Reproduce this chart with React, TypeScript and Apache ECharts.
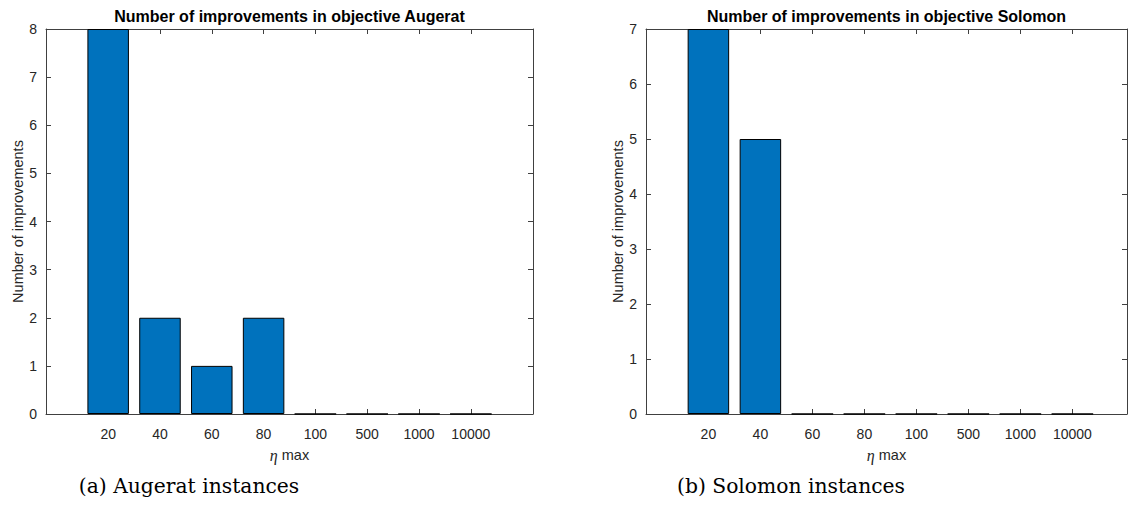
import React, { useEffect, useRef } from "react";
import * as echarts from "echarts";

const categories = ["20", "40", "60", "80", "100", "500", "1000", "10000"];
const augeratValues = [8, 2, 1, 2, 0, 0, 0, 0];
const solomonValues = [7, 5, 0, 0, 0, 0, 0, 0];
const augeratYTicks = [0, 1, 2, 3, 4, 5, 6, 7, 8];
const solomonYTicks = [0, 1, 2, 3, 4, 5, 6, 7];
const tickPositions = categories.map((_, i) => i + 1);

const AXIS = "#404040";
const TXT = "#262626";
const SANS = "Liberation Sans, Arial, Helvetica, sans-serif";
const SERIF = "Liberation Serif, Times New Roman, serif";
const CAPTION_SERIF = "DejaVu Serif, Liberation Serif, serif";

function xAxes(gridIndex: number, max: number) {
  const common = {
    type: "value",
    gridIndex,
    min: -0.2,
    max,
    splitLine: { show: false },
    axisLine: { show: true, onZero: false, lineStyle: { color: AXIS, width: 1 } },
    axisTick: {
      show: true,
      inside: true,
      length: 5,
      customValues: tickPositions,
      lineStyle: { color: AXIS, width: 1 },
    },
  };
  return [
    {
      ...common,
      position: "bottom",
      axisLabel: {
        show: true,
        customValues: tickPositions,
        formatter: (v: number) => categories[Math.round(v) - 1] ?? "",
        fontSize: 14,
        fontFamily: SANS,
        color: TXT,
        margin: 13,
      },
      name: "{i|η} max",
      nameLocation: "middle",
      nameGap: 33,
      nameTextStyle: {
        fontSize: 14.5,
        fontFamily: SANS,
        color: TXT,
        rich: {
          i: { fontFamily: SERIF, fontStyle: "italic", fontSize: 16, color: TXT },
        },
      },
    },
    {
      ...common,
      position: "top",
      axisLabel: { show: false },
    },
  ];
}

function yAxes(gridIndex: number, ticks: number[]) {
  const common = {
    type: "value",
    gridIndex,
    min: ticks[0],
    max: ticks[ticks.length - 1],
    interval: 1,
    splitLine: { show: false },
    axisLine: { show: true, onZero: false, lineStyle: { color: AXIS, width: 1 } },
    axisTick: { show: true, inside: true, length: 5, lineStyle: { color: AXIS, width: 1 } },
  };
  return [
    {
      ...common,
      position: "left",
      axisLabel: { show: true, fontSize: 14, fontFamily: SANS, color: TXT, margin: 9 },
      name: "Number of improvements",
      nameLocation: "middle",
      nameGap: 21,
      nameTextStyle: { fontSize: 14.5, fontFamily: SANS, color: TXT },
    },
    {
      ...common,
      position: "right",
      axisLabel: { show: false },
    },
  ];
}

function barSeries(axisIndex: number, values: number[]) {
  return {
    type: "bar",
    xAxisIndex: axisIndex,
    yAxisIndex: axisIndex,
    data: values.map((v, i) => [i + 1, v]),
    barWidth: 41.5,
    itemStyle: { color: "#0072BD", borderColor: "#000000", borderWidth: 1 },
    z: 3,
  };
}

function textEl(text: string, x: number, y: number, font: string) {
  return {
    type: "text",
    x,
    y,
    style: {
      text,
      font,
      fill: "#000000",
      textAlign: "center",
      textVerticalAlign: "middle",
      align: "center",
      verticalAlign: "middle",
    },
  };
}

export default function App() {
  const ref = useRef<HTMLDivElement>(null);
  useEffect(() => {
    if (!ref.current) return;
    const chart = echarts.init(ref.current, undefined, { renderer: "svg" });
    chart.setOption({
      animation: false,
      backgroundColor: "#ffffff",
      grid: [
        { left: 46, top: 29, width: 487, height: 385, containLabel: false },
        { left: 646, top: 29, width: 481, height: 385, containLabel: false },
      ],
      xAxis: [...xAxes(0, 9.2), ...xAxes(1, 9.05)],
      yAxis: [...yAxes(0, augeratYTicks), ...yAxes(1, solomonYTicks)],
      series: [barSeries(0, augeratValues), barSeries(2, solomonValues)],
      graphic: [
        textEl("Number of improvements in objective Augerat", 289.5, 16, `bold 16px ${SANS}`),
        textEl("Number of improvements in objective Solomon", 886.5, 16, `bold 16px ${SANS}`),
        textEl("(a) Augerat instances", 189, 486, `20.3px ${CAPTION_SERIF}`),
        textEl("(b) Solomon instances", 791, 486, `20.3px ${CAPTION_SERIF}`),
      ],
    });
    return () => chart.dispose();
  }, []);
  return (
    <div
      ref={ref}
      style={{ position: "absolute", left: 0, top: 0, width: 1129, height: 508 }}
    />
  );
}
